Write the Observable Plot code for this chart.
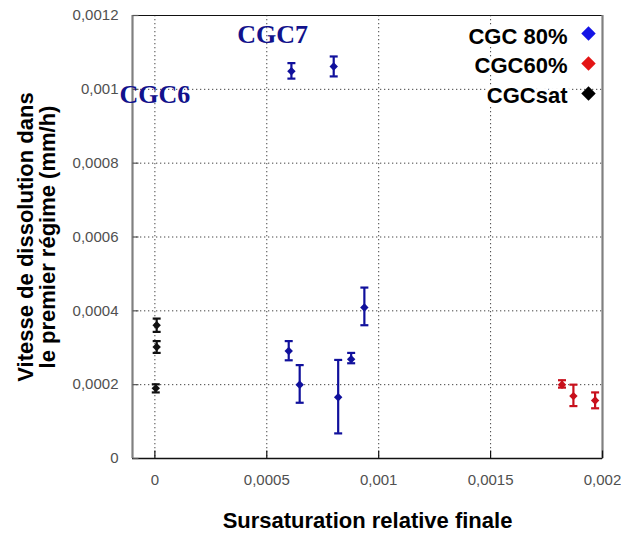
<!DOCTYPE html>
<html>
<head>
<meta charset="utf-8">
<script src="https://cdn.jsdelivr.net/npm/d3@7"></script>
<script src="https://cdn.jsdelivr.net/npm/@observablehq/plot@0.6"></script>
<style>
  html, body { margin: 0; padding: 0; background: #fff; }
</style>
</head>
<body>
<div id="chart"></div>
<script>
// ---- data ----
const xDomain = [-0.0001, 0.002];
const yDomain = [0, 0.0012];
const xTicks = [0, 0.0005, 0.001, 0.0015, 0.002];
const yTicks = [0, 0.0002, 0.0004, 0.0006, 0.0008, 0.001, 0.0012];
const xGrid = [0, 0.0005, 0.001, 0.0015];
const yGrid = [0.0002, 0.0004, 0.0006, 0.0008, 0.001];

// CGC 80% (blue)
const cgc80X  = [0.000610, 0.000799, 0.000598, 0.000647, 0.000819, 0.000877, 0.000936];
const cgc80Y  = [0.001049, 0.001062, 0.000291, 0.000200, 0.000166, 0.000269, 0.000409];
const cgc80Lo = [0.001029, 0.001035, 0.000266, 0.000151, 0.000068, 0.000258, 0.000361];
const cgc80Hi = [0.001071, 0.001089, 0.000318, 0.000253, 0.000267, 0.000286, 0.000463];

// CGC60% (red)
const cgc60X  = [0.001819, 0.001870, 0.001967];
const cgc60Y  = [0.000200, 0.000169, 0.000157];
const cgc60Lo = [0.000192, 0.000142, 0.000136];
const cgc60Hi = [0.000212, 0.000200, 0.000179];

// CGCsat (black)
const satX  = [0.000008, 0.000008, 0.000004];
const satY  = [0.000361, 0.000302, 0.000190];
const satLo = [0.000343, 0.000286, 0.000179];
const satHi = [0.000379, 0.000318, 0.000201];

const seriesNames = ["CGC 80%", "CGC60%", "CGCsat"];
const seriesColors = ["#10109c", "#c8101c", "#111111"];
const legendColors = ["#1414e6", "#e41414", "#000000"];

const annotations = ["CGC7", "CGC6"];
const annotationX = [0.000526, 0.0];
const annotationY = [0.001147, 0.000986];

const xTitle = "Sursaturation relative finale";
const yTitleLines = ["Vitesse de dissolution dans", "le premier régime (mm/h)"];

// ---- build table ----
function rows(name, xs, ys, lo, hi) {
  return xs.map((x, i) => ({series: name, x, y: ys[i], lo: lo[i], hi: hi[i]}));
}
const data = [
  ...rows(seriesNames[0], cgc80X, cgc80Y, cgc80Lo, cgc80Hi),
  ...rows(seriesNames[1], cgc60X, cgc60Y, cgc60Lo, cgc60Hi),
  ...rows(seriesNames[2], satX, satY, satLo, satHi)
];
const ann = annotations.map((t, i) => ({t, x: annotationX[i], y: annotationY[i]}));

const fmt = d => d === 0 ? "0" : String(+d.toPrecision(6)).replace(".", ",");

// custom symbols
const capSym = {draw(ctx, size) { const r = Math.sqrt(size / Math.PI); ctx.moveTo(-r, 0); ctx.lineTo(r, 0); }};
const tickRight = {draw(ctx, size) { const r = Math.sqrt(size / Math.PI); ctx.moveTo(0, 0); ctx.lineTo(r, 0); }};
const tickUp = {draw(ctx, size) { const r = Math.sqrt(size / Math.PI); ctx.moveTo(0, 0); ctx.lineTo(0, -r); }};

const colorOf = d => seriesColors[seriesNames.indexOf(d.series)];

const legendMarks = seriesNames.flatMap((s, i) => [
  Plot.text([s], {frameAnchor: "top-right", text: d => d, dx: -35, dy: 21 + i * 29.5, textAnchor: "end", lineAnchor: "middle", fontSize: 22, fontWeight: "bold", fill: "#000", stroke: "#fff", strokeWidth: 6, letterSpacing: 2.5}),
  Plot.dot([s], {frameAnchor: "top-right", dx: -14, dy: 18 + i * 30, symbol: "diamond2", r: 6.5, fill: legendColors[i], stroke: "none"})
]);

const yTitleMarks = yTitleLines.map((t, i) =>
  Plot.text([t], {frameAnchor: "left", dx: i === 0 ? -107 : -85, text: d => d, rotate: -90, textAnchor: "middle", lineAnchor: "middle", fontSize: 22, fontWeight: "bold", fill: "#000", letterSpacing: i === 0 ? 1.7 : 2.3})
);

const plot = Plot.plot({
  width: 621,
  height: 533,
  marginLeft: 132,
  marginRight: 19,
  marginTop: 15,
  marginBottom: 75,
  style: {fontFamily: "'Liberation Sans', Arial, sans-serif", fontSize: "15px", background: "#fff", overflow: "visible"},
  x: {domain: xDomain, label: null},
  y: {domain: yDomain, label: null},
  marks: [
    // grid
    Plot.ruleX(xGrid, {stroke: "#444", strokeWidth: 1, strokeDasharray: "1.3,2.7"}),
    Plot.ruleY(yGrid, {stroke: "#444", strokeWidth: 1, strokeDasharray: "1.3,2.7"}),
    // frame
    Plot.ruleY([yDomain[1]], {stroke: "#111", strokeWidth: 1.2}),
    Plot.ruleY([yDomain[0]], {stroke: "#111", strokeWidth: 1.6}),
    Plot.ruleX([xDomain[0]], {stroke: "#808080", strokeWidth: 2.2}),
    Plot.ruleX([xDomain[1]], {stroke: "#808080", strokeWidth: 2.2}),
    // inward ticks
    Plot.dot(yTicks, {x: () => xDomain[0], y: d => d, symbol: tickRight, r: 6, fill: "none", stroke: "#555", strokeWidth: 1.2}),
    Plot.dot(xTicks, {x: d => d, y: () => yDomain[0], symbol: tickUp, r: 8, fill: "none", stroke: "#111", strokeWidth: 1.2}),
    // axes labels
    Plot.axisY({ticks: yTicks, tickSize: 0, tickPadding: 14, tickFormat: fmt, color: "#505050", fontSize: 15, label: null}),
    Plot.axisX({ticks: xTicks, tickSize: 0, tickPadding: 16, tickFormat: fmt, color: "#505050", fontSize: 15, label: null}),
    // error bars
    Plot.ruleX(data, {x: "x", y1: "lo", y2: "hi", stroke: colorOf, strokeWidth: 2.2}),
    Plot.dot(data, {x: "x", y: "lo", symbol: capSym, r: 4, fill: "none", stroke: colorOf, strokeWidth: 2.2}),
    Plot.dot(data, {x: "x", y: "hi", symbol: capSym, r: 4, fill: "none", stroke: colorOf, strokeWidth: 2.2}),
    Plot.dot(data, {x: "x", y: "y", symbol: "diamond2", r: 3.8, fill: colorOf, stroke: "none"}),
    // annotations
    Plot.text(ann, {x: "x", y: "y", text: "t", fill: "#12128c", fontFamily: "'Liberation Serif', 'Times New Roman', serif", fontWeight: "bold", fontSize: 26, textAnchor: "middle", lineAnchor: "middle"}),
    // legend
    ...legendMarks,
    // axis titles
    Plot.text([xTitle], {frameAnchor: "bottom", dy: 62, text: d => d, fontSize: 22, fontWeight: "bold", fill: "#000", letterSpacing: 2, lineAnchor: "middle"}),
    ...yTitleMarks
  ]
});
document.getElementById("chart").appendChild(plot);
</script>
</body>
</html>
